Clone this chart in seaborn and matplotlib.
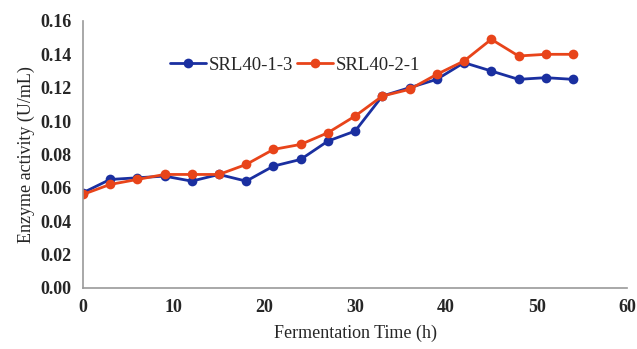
import numpy as np
import pandas as pd
import matplotlib
matplotlib.use("Agg")
import matplotlib.pyplot as plt
import seaborn as sns

# data
hours = [0, 3, 6, 9, 12, 15, 18, 21, 24, 27, 30, 33, 36, 39, 42, 45, 48, 51, 54]
srl_1_3 = [0.057, 0.065, 0.066, 0.067, 0.064, 0.068, 0.064, 0.073, 0.077, 0.088,
           0.094, 0.115, 0.120, 0.125, 0.135, 0.130, 0.125, 0.126, 0.125]
srl_2_1 = [0.056, 0.062, 0.065, 0.068, 0.068, 0.068, 0.074, 0.083, 0.086, 0.093,
           0.103, 0.115, 0.119, 0.128, 0.136, 0.149, 0.139, 0.140, 0.140]
series_names = ["SRL40-1-3", "SRL40-2-1"]
x_ticks = [0, 10, 20, 30, 40, 50, 60]
y_ticks = [0.00, 0.02, 0.04, 0.06, 0.08, 0.10, 0.12, 0.14, 0.16]

df = pd.DataFrame({
    "hours": hours * 2,
    "activity": srl_1_3 + srl_2_1,
    "strain": [series_names[0]] * len(hours) + [series_names[1]] * len(hours),
})

sns.set_style("white")
plt.rcParams["font.family"] = ["Liberation Serif", "DejaVu Serif"]

fig, ax = plt.subplots(figsize=(6.37, 3.49), dpi=100)
sns.lineplot(data=df, x="hours", y="activity", hue="strain", marker="o",
             palette=["#1a2fa0", "#e8441a"], linewidth=2, markersize=7,
             markeredgewidth=0, ax=ax)

ax.set_xlim(0, 60)
ax.set_ylim(0, 0.16)
ax.set_xticks(x_ticks)
ax.set_yticks(y_ticks)
ax.set_xticklabels([str(t) for t in x_ticks], fontsize=13, fontweight="bold")
ax.set_yticklabels([f"{t:.2f}" for t in y_ticks], fontsize=13, fontweight="bold")
ax.set_xlabel("Fermentation Time (h)", fontsize=13, labelpad=6)
ax.set_ylabel("Enzyme activity (U/mL)", fontsize=13)
ax.tick_params(length=0, pad=8)
for side in ["top", "right"]:
    ax.spines[side].set_visible(False)
for side in ["left", "bottom"]:
    ax.spines[side].set_color("#999999")
    ax.spines[side].set_linewidth(1.2)

ax.legend(title=None, loc="upper left", bbox_to_anchor=(0.13, 0.93), ncol=2,
          frameon=False, fontsize=13.5, handlelength=1.9, columnspacing=0.2,
          handletextpad=0.15)

plt.subplots_adjust(left=0.13, right=0.985, top=0.94, bottom=0.175)
fig.savefig("out.png", dpi=100)
